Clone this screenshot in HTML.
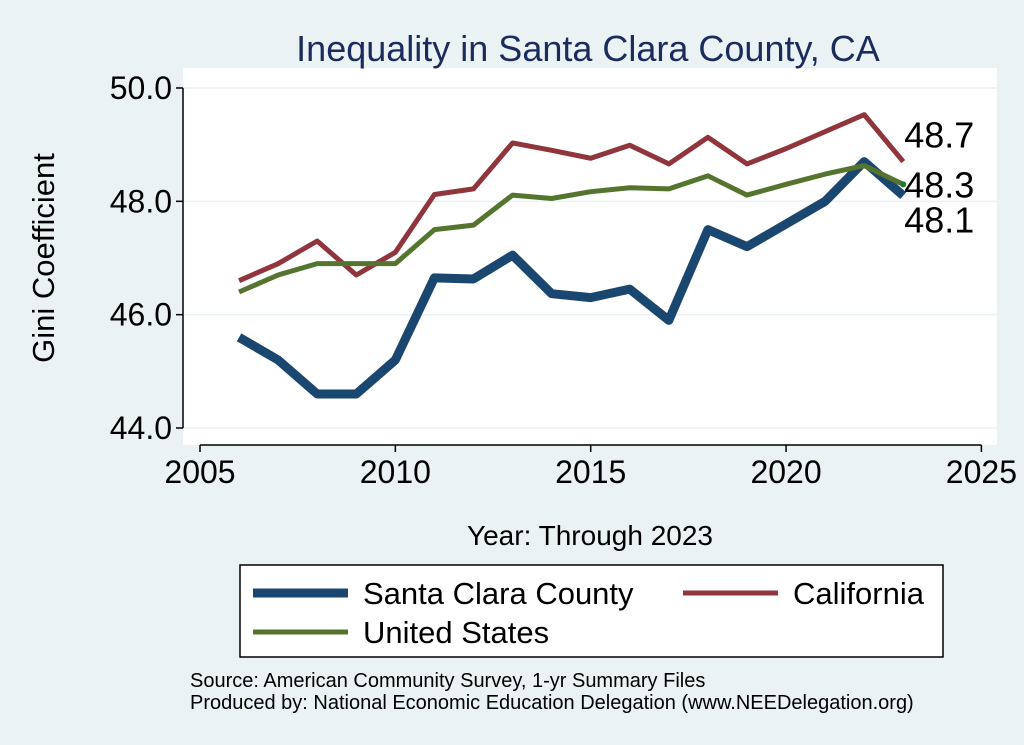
<!DOCTYPE html>
<html><head><meta charset="utf-8"><style>
body{margin:0;background:#eaf2f3;}
svg{display:block;font-family:"Liberation Sans",Arial,sans-serif;}
</style></head><body>
<svg id="chart" width="1024" height="745" viewBox="0 0 1024 745">
<rect x="0" y="0" width="1024" height="745" fill="#eaf2f3"/>
<rect x="183" y="68" width="814" height="377" fill="#ffffff"/>
<text x="588" y="61" text-anchor="middle" font-size="36" fill="#1a2b5c">Inequality in Santa Clara County, CA</text>
<text transform="translate(54,258) rotate(-90)" text-anchor="middle" font-size="31" fill="#000">Gini Coefficient</text>
<text x="590" y="545" text-anchor="middle" font-size="28" fill="#000">Year: Through 2023</text>
<g id="grid"></g><g id="axes"></g><g id="series"></g><g id="labels"></g>
<rect x="240" y="565" width="703" height="92" fill="#fff" stroke="#000" stroke-width="1.5"/>
<g><line x1="253" y1="593" x2="348" y2="593" stroke="#1a476f" stroke-width="9"/><text x="363" y="604" font-size="31">Santa Clara County</text></g>
<g><line x1="683" y1="593" x2="778" y2="593" stroke="#90353b" stroke-width="5"/><text x="793" y="604" font-size="31">California</text></g>
<g><line x1="253" y1="632" x2="348" y2="632" stroke="#55752f" stroke-width="5"/><text x="363" y="643" font-size="31">United States</text></g>
<text x="190" y="687" font-size="20">Source: American Community Survey, 1-yr Summary Files</text>
<text x="190" y="709" font-size="20">Produced by: National Economic Education Delegation (www.NEEDelegation.org)</text>
</svg>
<script>
const years=[2006,2007,2008,2009,2010,2011,2012,2013,2014,2015,2016,2017,2018,2019,2020,2021,2022,2023];
const santaClara=[45.6,45.2,44.6,44.6,45.2,46.65,46.63,47.05,46.37,46.3,46.45,45.9,47.5,47.2,47.6,48.0,48.7,48.1];
const california=[46.6,46.9,47.3,46.7,47.1,48.12,48.22,49.03,48.9,48.76,48.99,48.66,49.13,48.66,48.93,49.23,49.53,48.7];
const unitedStates=[46.4,46.7,46.9,46.9,46.9,47.5,47.58,48.11,48.05,48.17,48.24,48.22,48.45,48.11,48.3,48.48,48.63,48.3];
const xTicks=[2005,2010,2015,2020,2025];
const yTicks=[44,46,48,50];
const yTickLabels=["44.0","46.0","48.0","50.0"];
const NS="http://www.w3.org/2000/svg";
const xs=v=>200+(v-2005)*39.07;
const ys=v=>428-(v-44)*56.67;
function mk(tag,attrs,parent){const e=document.createElementNS(NS,tag);for(const k in attrs)e.setAttribute(k,attrs[k]);document.getElementById(parent).appendChild(e);return e;}
yTicks.forEach((t,i)=>{
 const g=mk('line',{x1:183,x2:997,y1:ys(t),y2:ys(t),stroke:'#eaf2f3','stroke-width':1.5},'grid');
 
 
 const tk=mk('line',{x1:176,x2:183,y1:ys(t),y2:ys(t),stroke:'#000','stroke-width':1.5},'axes');
 
 
 const l=mk('text',{x:172,y:ys(t)+11,'text-anchor':'end','font-size':32},'axes');
 l.textContent=yTickLabels[i];
 
 
});
xTicks.forEach(t=>{
 const tk=mk('line',{x1:xs(t),x2:xs(t),y1:445,y2:452,stroke:'#000','stroke-width':1.5},'axes');
 
 
 const l=mk('text',{x:xs(t),y:483,'text-anchor':'middle','font-size':32},'axes');
 l.textContent=String(t);
 
 
});
const ya=mk('line',{x1:183,x2:183,y1:ys(44),y2:ys(50),stroke:'#000','stroke-width':1.5},'axes');


const xa=mk('line',{x1:xs(2005),x2:xs(2025),y1:445,y2:445,stroke:'#000','stroke-width':1.5},'axes');


function line(vals,color,w,name){
 const p=mk('polyline',{points:vals.map((v,i)=>xs(years[i])+','+ys(v)).join(' '),fill:'none',stroke:color,'stroke-width':w,'stroke-linejoin':'round'},'series');
 
 
}
line(santaClara,'#1a476f',9,'santa-clara-line');
line(california,'#90353b',5,'california-line');
line(unitedStates,'#55752f',5,'united-states-line');
const n=years.length-1;
const dot=mk('circle',{cx:xs(years[n]),cy:ys(unitedStates[n]),r:3,fill:'#1a7a2a'},'series');


[[california[n],-14,'label-california'],[unitedStates[n],13,'label-united-states'],[santaClara[n],37,'label-santa-clara']].forEach(([v,dy,nm])=>{
 const t=mk('text',{x:xs(years[n])+1,y:ys(v)+dy,'font-size':36},'labels');
 t.textContent=v.toFixed(1);
 
 
});
</script>
</body></html>
